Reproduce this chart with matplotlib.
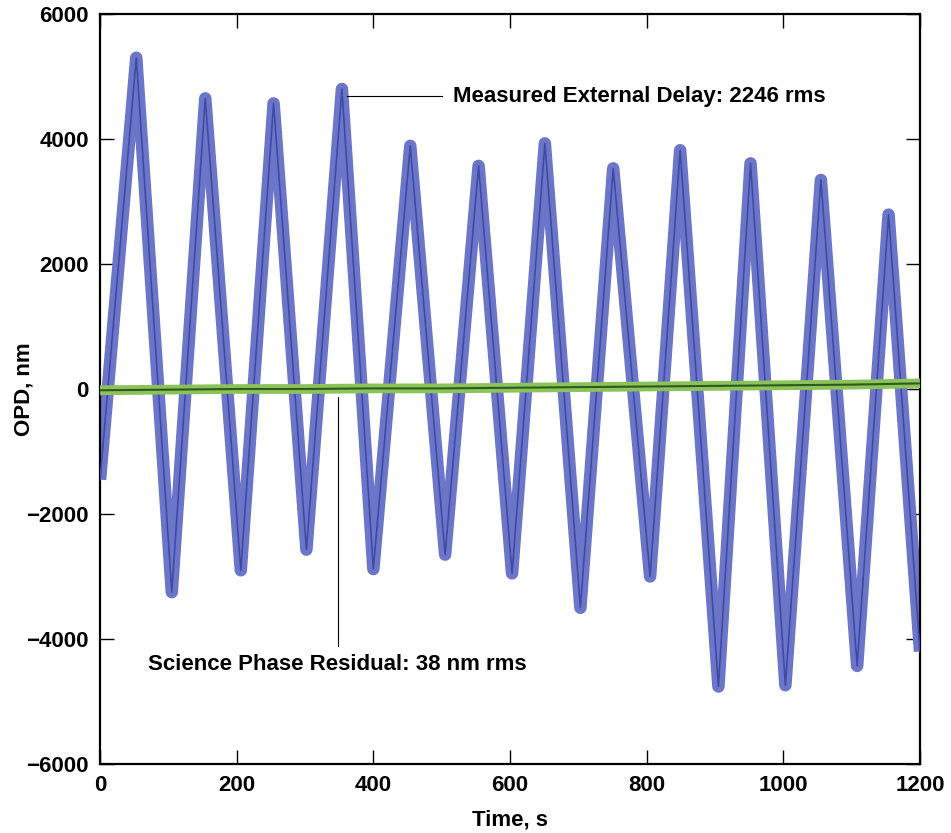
import numpy as np
import matplotlib.pyplot as plt

plt.rcParams['font.family'] = ['Liberation Sans', 'DejaVu Sans']
plt.rcParams['font.weight'] = 'bold'

# Measured external delay: extrema (time s, OPD nm)
delay_t = [0, 53, 105, 154, 206, 254, 302, 354, 400, 454, 505, 554, 603,
           651, 703, 751, 805, 849, 905, 952, 1003, 1055, 1108, 1154, 1200]
delay_v = [-1450, 5300, -3250, 4650, -2900, 4570, -2570, 4800, -2880, 3890,
           -2650, 3570, -2950, 3930, -3500, 3530, -3000, 3820, -4760, 3610,
           -4740, 3345, -4430, 2790, -4200]

# Science phase residual: slow mean drift of the residual band
resid_t = [0, 100, 200, 300, 400, 500, 600, 700, 800, 900, 1000, 1100, 1200]
resid_v = [-20, -10, 0, 0, 10, 10, 20, 30, 40, 50, 60, 70, 90]

xticks = [0, 200, 400, 600, 800, 1000, 1200]
yticks = [-6000, -4000, -2000, 0, 2000, 4000, 6000]

fig = plt.figure(figsize=(9.51, 8.33), dpi=100)
ax = fig.add_axes([0.1052, 0.0828, 0.8622, 0.9004])

ax.plot(delay_t, delay_v, color='#6b76c9', lw=9, solid_joinstyle='round',
        solid_capstyle='butt', zorder=2)
ax.plot(delay_t, delay_v, color='#3f4aa6', lw=1.2, zorder=3)

ax.plot(resid_t, resid_v, color='#8cc25a', lw=7, solid_capstyle='butt', zorder=4)
ax.plot(resid_t, resid_v, color='#2f5a1c', lw=1.5, zorder=5)

# annotations
ax.plot([361, 500], [4680, 4680], color='black', lw=0.8, zorder=6)
ax.text(516, 4680, 'Measured External Delay: 2246 rms', fontsize=16,
        fontweight='bold', va='center', ha='left')
ax.plot([348, 348], [-120, -4110], color='black', lw=0.8, zorder=6)
ax.text(70, -4400, 'Science Phase Residual: 38 nm rms', fontsize=16,
        fontweight='bold', va='center', ha='left')

ax.set_xlim(0, 1200)
ax.set_ylim(-6000, 6000)
ax.set_xticks(xticks)
ax.set_yticks(yticks)
ax.tick_params(direction='in', length=10, width=1, top=True, right=True,
               labelsize=16, pad=8)
for lab in ax.get_xticklabels() + ax.get_yticklabels():
    lab.set_fontweight('bold')
for sp in ax.spines.values():
    sp.set_linewidth(1.6)

ax.set_xlabel('Time, s', fontsize=16, fontweight='bold')
ax.set_ylabel('OPD, nm', fontsize=16, fontweight='bold')
ax.xaxis.set_label_coords(0.5, -0.061)
ax.yaxis.set_label_coords(-0.080, 0.5)

fig.savefig('out.png', dpi=100)
